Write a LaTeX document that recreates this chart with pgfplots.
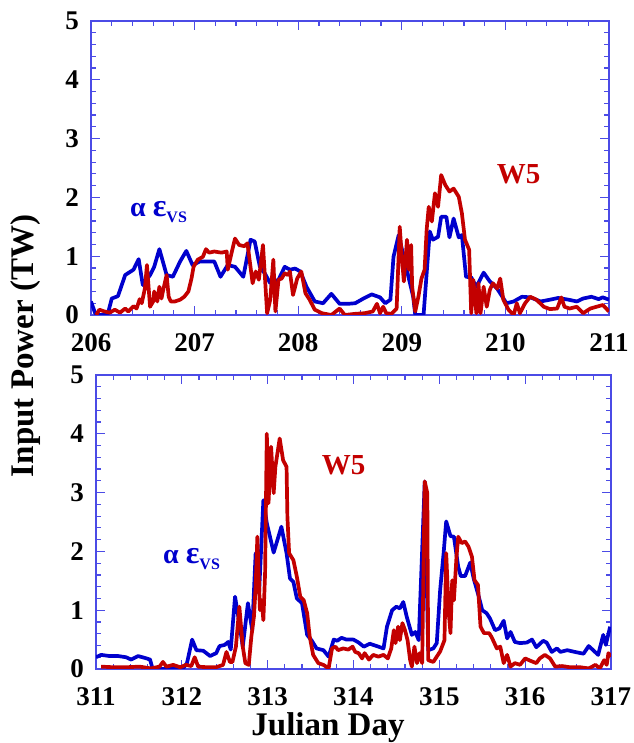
\documentclass[border=0pt]{standalone}
\usepackage{fontspec}
\setmainfont{Liberation Serif}
\usepackage{pgfplots}
\pgfplotsset{compat=1.18}

\definecolor{lineblue}{RGB}{0,0,205}
\definecolor{linered}{RGB}{195,0,0}
\definecolor{frameblue}{RGB}{75,75,230}

% 1 px of the reference = 0.5pt
\pgfplotsset{
  panel/.style={
    scale only axis,
    height=147pt,
    ymin=0, ymax=5,
    ytick={0,1,2,3,4,5},
    minor tick num=4,
    tick align=inside,
    major tick length=4.5pt,
    minor tick length=2.5pt,
    axis line style={frameblue, line width=0.7pt},
    every tick/.style={frameblue, line width=0.6pt},
    /pgf/number format/assume math mode=true,
    /pgf/number format/set thousands separator={},
    ticklabel style={font=\fontsize{13.5}{14}\selectfont\bfseries},
    xticklabel style={inner ysep=0pt, yshift=-9pt},
    yticklabel style={inner ysep=0pt, xshift=-2.5pt},
  },
  bl/.style={lineblue, line width=1.85pt, line join=round, no marks},
  rd/.style={linered, line width=1.85pt, line join=round, no marks},
}

\begin{document}
\begin{tikzpicture}
\path[use as bounding box] (0,0) rectangle (316.5pt,371.5pt);

% ===== top panel: days 206-211 =====
\begin{axis}[panel, at={(45.5pt,214pt)}, anchor=south west, width=259pt,
  xmin=206, xmax=211, xtick={206,207,208,209,210,211}]
\addplot[bl] coordinates {
 (206.00,0.23) (206.04,0.03) (206.08,0.00) (206.16,0.00) (206.20,0.28)
 (206.26,0.32) (206.33,0.68) (206.41,0.77) (206.46,0.95) (206.50,0.51)
 (206.57,0.68) (206.61,0.82) (206.66,1.12) (206.73,0.68) (206.79,0.65)
 (206.86,0.91) (206.92,1.09) (206.98,0.85) (207.05,0.91) (207.13,0.91)
 (207.19,0.91) (207.25,0.65) (207.32,0.85) (207.39,0.82) (207.47,0.65)
 (207.54,1.28) (207.58,1.25) (207.63,0.82) (207.68,0.70) (207.73,0.54)
 (207.81,0.60) (207.87,0.82) (207.92,0.77) (207.97,0.79) (208.02,0.74)
 (208.08,0.48) (208.16,0.23) (208.24,0.20) (208.32,0.36) (208.40,0.19)
 (208.48,0.19) (208.55,0.20) (208.63,0.28) (208.71,0.35) (208.79,0.30)
 (208.84,0.20) (208.89,0.26) (208.92,0.99) (208.97,1.36) (209.01,1.05)
 (209.06,0.68) (209.11,0.31) (209.13,0.00) (209.21,0.00) (209.24,0.71)
 (209.27,1.42) (209.30,1.28) (209.35,1.33) (209.38,1.67) (209.43,1.67)
 (209.46,1.32) (209.50,1.64) (209.55,1.32) (209.58,1.36) (209.62,0.65)
 (209.67,0.64) (209.72,0.48) (209.79,0.72) (209.85,0.57) (209.92,0.45)
 (209.96,0.34) (210.01,0.20) (210.08,0.23) (210.16,0.31) (210.24,0.30)
 (210.34,0.23) (210.43,0.26) (210.51,0.29) (210.61,0.26) (210.69,0.23)
 (210.75,0.28) (210.83,0.31) (210.90,0.27) (210.94,0.30) (211.00,0.26)
};
\addplot[rd] coordinates {
 (206.05,0.00) (206.08,0.09) (206.13,0.06) (206.18,0.04) (206.23,0.09)
 (206.28,0.04) (206.33,0.11) (206.36,0.06) (206.41,0.15) (206.44,0.11)
 (206.47,0.27) (206.49,0.20) (206.52,0.45) (206.54,0.85) (206.57,0.14)
 (206.60,0.23) (206.61,0.40) (206.64,0.23) (206.66,0.48) (206.68,0.28)
 (206.70,0.45) (206.73,0.68) (206.75,0.31) (206.77,0.23) (206.81,0.23)
 (206.86,0.26) (206.90,0.31) (206.94,0.40) (206.97,0.62) (206.99,0.82)
 (207.03,0.94) (207.08,0.99) (207.11,1.12) (207.14,1.06) (207.19,1.08)
 (207.26,1.06) (207.31,1.08) (207.32,0.77) (207.36,1.08) (207.39,1.30)
 (207.43,1.19) (207.48,1.17) (207.51,1.22) (207.56,0.54) (207.59,0.74)
 (207.62,0.60) (207.66,1.19) (207.70,0.03) (207.73,0.26) (207.76,0.94)
 (207.78,0.06) (207.81,0.60) (207.84,0.62) (207.87,0.71) (207.90,0.68)
 (207.92,0.74) (207.95,0.34) (207.99,0.62) (208.03,0.74) (208.07,0.37)
 (208.11,0.26) (208.16,0.09) (208.23,0.03) (208.32,0.00) (208.40,0.11)
 (208.45,0.00) (208.55,0.02) (208.64,0.03) (208.72,0.06) (208.76,0.19)
 (208.79,0.03) (208.82,0.14) (208.85,0.03) (208.90,0.02) (208.95,0.11)
 (208.98,1.50) (209.00,0.99) (209.02,0.57) (209.05,1.28) (209.07,0.77)
 (209.09,1.19) (209.10,0.48) (209.13,0.06) (209.16,0.31) (209.19,0.62)
 (209.22,0.77) (209.24,1.45) (209.26,1.84) (209.29,1.59) (209.32,2.07)
 (209.35,1.84) (209.38,2.38) (209.42,2.21) (209.46,2.10) (209.50,2.15)
 (209.55,2.01) (209.58,1.73) (209.61,1.28) (209.65,1.11) (209.67,0.03)
 (209.69,0.60) (209.72,0.03) (209.74,0.54) (209.76,0.03) (209.79,0.48)
 (209.82,0.14) (209.85,0.43) (209.88,0.54) (209.92,0.45) (209.95,0.62)
 (209.98,0.26) (210.03,0.09) (210.08,0.00) (210.11,0.20) (210.14,0.03)
 (210.19,0.20) (210.24,0.31) (210.30,0.26) (210.37,0.14) (210.43,0.10)
 (210.50,0.11) (210.54,0.30) (210.57,0.14) (210.62,0.11) (210.69,0.14)
 (210.75,0.03) (210.82,0.11) (210.88,0.14) (210.94,0.17) (211.00,0.06)
};
\node[anchor=base west, text=lineblue, font=\fontsize{14}{15}\selectfont\bfseries]
  at (axis cs:206.31,1.67) {α {\fontsize{16}{16}\selectfont ε}\raisebox{-0.22em}{\fontsize{8}{8}\selectfont VS}};
\node[anchor=base west, text=linered, font=\fontsize{14.5}{15}\selectfont\bfseries]
  at (axis cs:209.85,2.24) {W5};
\end{axis}

% ===== bottom panel: days 311-317 =====
\begin{axis}[panel, at={(48pt,37pt)}, anchor=south west, width=257.5pt,
  xmin=311, xmax=317, xtick={311,312,313,314,315,316,317}]
\addplot[bl] coordinates {
 (311.00,0.20) (311.06,0.24) (311.16,0.22) (311.26,0.22) (311.35,0.20)
 (311.41,0.16) (311.49,0.22) (311.59,0.18) (311.63,0.16) (311.66,0.00)
 (312.01,0.00) (312.06,0.10) (312.12,0.50) (312.17,0.32) (312.25,0.31)
 (312.33,0.22) (312.40,0.27) (312.44,0.39) (312.50,0.41) (312.54,0.46)
 (312.57,0.33) (312.62,1.23) (312.67,0.78) (312.71,0.38) (312.77,1.12)
 (312.82,0.66) (312.86,1.97) (312.90,1.29) (312.95,2.87) (312.99,2.48)
 (313.07,1.98) (313.16,2.42) (313.22,1.97) (313.26,1.54) (313.30,1.48)
 (313.34,1.20) (313.40,1.12) (313.46,0.58) (313.51,0.49) (313.57,0.35)
 (313.65,0.32) (313.71,0.21) (313.77,0.50) (313.81,0.48) (313.86,0.53)
 (313.92,0.50) (314.00,0.50) (314.06,0.45) (314.12,0.38) (314.19,0.43)
 (314.27,0.39) (314.35,0.35) (314.39,0.72) (314.45,1.00) (314.50,1.06)
 (314.54,1.03) (314.58,1.14) (314.62,0.89) (314.68,0.58) (314.72,0.63)
 (314.76,0.49) (314.80,2.02) (314.83,3.19) (314.85,1.74) (314.87,0.32)
 (314.93,0.35) (314.97,0.44) (315.01,1.35) (315.05,1.97) (315.08,2.51)
 (315.13,2.26) (315.17,2.25) (315.22,1.74) (315.25,1.58) (315.30,1.58)
 (315.36,1.81) (315.40,1.54) (315.46,1.23) (315.50,1.00) (315.55,0.95)
 (315.59,0.86) (315.65,0.66) (315.70,0.69) (315.75,0.82) (315.79,0.52)
 (315.83,0.63) (315.88,0.46) (315.94,0.44) (316.02,0.45) (316.08,0.50)
 (316.13,0.37) (316.21,0.48) (316.25,0.45) (316.31,0.29) (316.37,0.35)
 (316.41,0.29) (316.49,0.32) (316.58,0.29) (316.68,0.26) (316.74,0.39)
 (316.80,0.31) (316.85,0.24) (316.91,0.58) (316.94,0.41) (316.99,0.72)
};
\addplot[rd] coordinates {
 (311.06,0.04) (311.20,0.03) (311.35,0.03) (311.51,0.04) (311.64,0.01)
 (311.74,0.04) (311.78,0.12) (311.82,0.04) (311.90,0.07) (311.98,0.03)
 (312.05,0.07) (312.11,0.05) (312.15,0.20) (312.19,0.04) (312.29,0.03)
 (312.40,0.03) (312.48,0.07) (312.52,0.29) (312.56,0.12) (312.59,0.12)
 (312.63,0.38) (312.67,1.06) (312.71,0.38) (312.74,0.10) (312.78,0.07)
 (312.81,0.55) (312.84,0.89) (312.86,1.40) (312.88,2.25) (312.91,1.00)
 (312.93,1.17) (312.95,0.83) (312.97,1.63) (312.99,4.00) (313.01,2.82)
 (313.04,3.78) (313.07,2.99) (313.09,3.44) (313.14,3.92) (313.18,3.55)
 (313.22,3.44) (313.23,2.59) (313.25,1.97) (313.30,1.85) (313.34,1.57)
 (313.38,1.23) (313.42,1.17) (313.46,0.95) (313.49,0.55) (313.53,0.24)
 (313.59,0.10) (313.65,0.07) (313.71,0.01) (313.75,0.35) (313.79,0.38)
 (313.82,0.32) (313.88,0.35) (313.94,0.33) (313.99,0.38) (314.02,0.29)
 (314.06,0.27) (314.10,0.18) (314.13,0.27) (314.18,0.16) (314.23,0.24)
 (314.29,0.21) (314.35,0.24) (314.40,0.18) (314.44,0.35) (314.47,0.66)
 (314.49,0.44) (314.52,0.72) (314.54,0.49) (314.57,0.78) (314.60,0.66)
 (314.63,0.49) (314.66,0.15) (314.68,0.04) (314.71,0.38) (314.74,0.10)
 (314.77,0.27) (314.80,0.10) (314.83,3.19) (314.86,2.99) (314.87,0.15)
 (314.93,0.12) (314.97,0.21) (315.01,0.30) (315.06,0.49) (315.08,1.97)
 (315.11,0.95) (315.13,0.61) (315.15,1.51) (315.17,1.17) (315.20,1.91)
 (315.22,2.25) (315.26,2.14) (315.30,2.17) (315.34,2.08) (315.38,1.91)
 (315.41,1.51) (315.45,1.43) (315.48,0.72) (315.52,0.61) (315.58,0.61)
 (315.61,0.54) (315.67,0.35) (315.71,0.38) (315.75,0.10) (315.79,0.24)
 (315.83,0.04) (315.88,0.10) (315.94,0.07) (316.00,0.18) (316.06,0.14)
 (316.13,0.10) (316.17,0.18) (316.23,0.24) (316.29,0.18) (316.35,0.04)
 (316.43,0.05) (316.52,0.03) (316.64,0.03) (316.74,0.01) (316.82,0.07)
 (316.87,0.01) (316.92,0.15) (316.95,0.07) (316.97,0.27) (317.00,0.21)
};
\node[anchor=base west, text=lineblue, font=\fontsize{14}{15}\selectfont\bfseries]
  at (axis cs:311.70,1.80) {α {\fontsize{16}{16}\selectfont ε}\raisebox{-0.22em}{\fontsize{8}{8}\selectfont VS}};
\node[anchor=base west, text=linered, font=\fontsize{14.5}{15}\selectfont\bfseries]
  at (axis cs:313.55,3.31) {W5};
\end{axis}

% shared axis titles
\node[rotate=90, font=\fontsize{16.5}{18}\selectfont\bfseries] at (13pt,198.5pt) {Input Power (TW)};
\node[anchor=base, font=\fontsize{16.5}{18}\selectfont\bfseries] at (164pt,4pt) {Julian Day};
\end{tikzpicture}
\end{document}
